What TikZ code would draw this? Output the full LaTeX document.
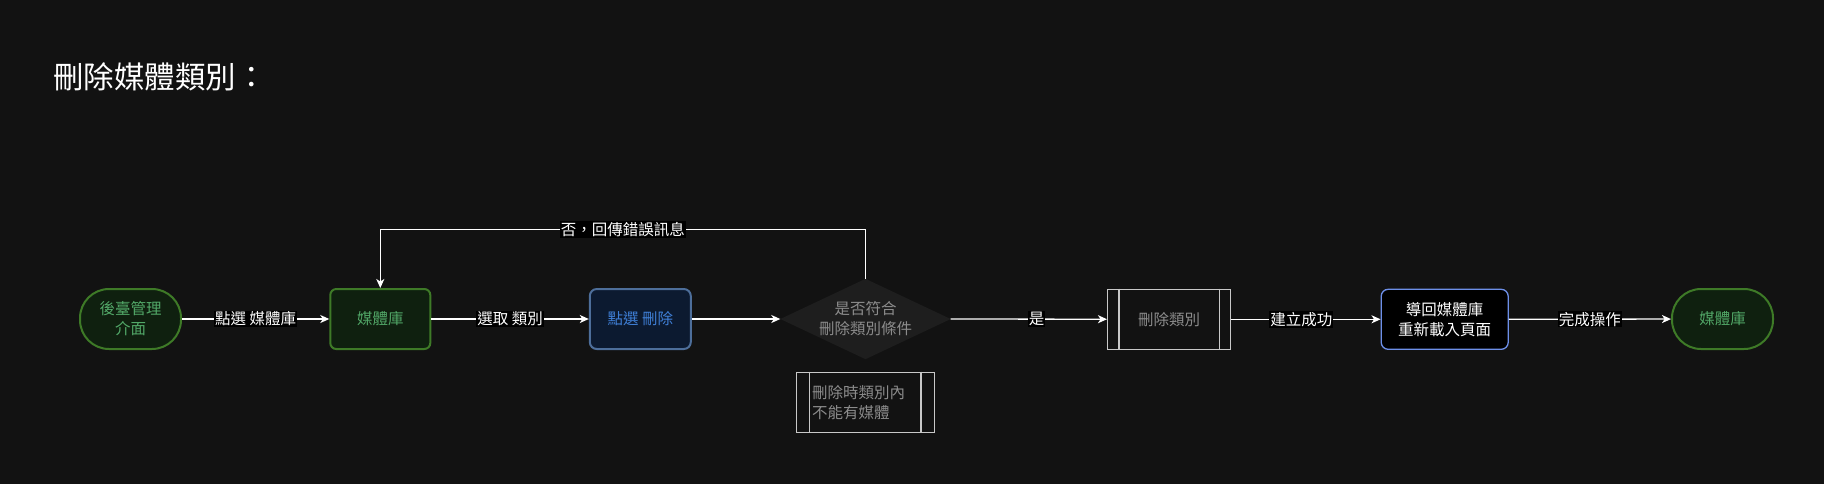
\documentclass[tikz,border=0pt]{standalone}
\usepackage{fontspec}
\setmainfont{Noto Sans CJK TC}
\usetikzlibrary{arrows.meta,calc}
\definecolor{bgc}{HTML}{121212}
\definecolor{grnfill}{HTML}{0F200F}
\definecolor{grnline}{HTML}{3E7A27}
\definecolor{grntext}{HTML}{52A868}
\definecolor{bluefill}{HTML}{0C1A30}
\definecolor{blueline}{HTML}{4D6E9A}
\definecolor{bluetext}{HTML}{3F7FD6}
\definecolor{blue2line}{HTML}{6D8FE8}
\definecolor{grayline}{HTML}{C8C8C8}
\definecolor{graytext}{HTML}{8C8C8C}
\definecolor{decfill}{HTML}{1E1E1E}
\tikzset{
  base/.style={font=\fontsize{15.5}{20}\selectfont, align=center, inner sep=0pt, minimum height=60pt},
  term/.style={base, draw=grnline, fill=grnfill, text=grntext, line width=2pt, rounded corners=29pt, minimum width=101pt},
  greenbox/.style={base, draw=grnline, fill=grnfill, text=grntext, line width=2pt, rounded corners=6pt, minimum width=100pt},
  bluebox/.style={base, draw=blueline, fill=bluefill, text=bluetext, line width=2pt, rounded corners=7pt, minimum width=101pt},
  navbox/.style={base, draw=blue2line, fill=black, text=white, line width=1.3pt, rounded corners=7pt, minimum width=127pt},
  procbox/.style={base, draw=grayline, text=graytext, line width=1.2pt, minimum width=123pt},
  lbl/.style={fill=black, text=white, font=\fontsize{15.5}{20}\selectfont, inner sep=1pt},
  arr/.style={draw=white, line width=1.3pt, -{Stealth[length=9pt,width=8pt,inset=2.5pt]}},
}
\begin{document}
\begin{tikzpicture}[x=1pt,y=-1pt]
\useasboundingbox (0,0) rectangle (1824,483);
\fill[bgc] (-3,-3) rectangle (1827,486);

\node[anchor=west, text=white, font=\fontsize{30.5}{36}\selectfont, inner sep=0pt] (title) at (53,77) {刪除媒體類別：};

\node[term] (start) at (130.5,319) {後臺管理\\介面};
\node[greenbox] (lib) at (380.3,319) {媒體庫};
\node[bluebox] (click) at (640.3,319) {點選 刪除};
\node[minimum width=170pt, minimum height=80pt, inner sep=0pt] (dec) at (865.5,319) {};
\fill[decfill] (dec.west) -- (dec.north) -- (dec.east) -- (dec.south) -- cycle;
\node[text=graytext, font=\fontsize{15.5}{20}\selectfont, align=center] (dectext) at (dec.center) {是否符合\\刪除類別條件};
\node[procbox] (del) at (1169.1,319.3) {刪除類別};
\draw[grayline, line width=1.2pt] ([xshift=12pt]del.north west) -- ([xshift=12pt]del.south west);
\draw[grayline, line width=1.2pt] ([xshift=-12pt]del.north east) -- ([xshift=-12pt]del.south east);
\node[navbox] (nav) at (1444.7,319.3) {導回媒體庫\\重新載入頁面};
\node[term] (endn) at (1722.5,319) {媒體庫};

\node[draw=grayline, line width=1.2pt, minimum width=138pt, minimum height=60pt, inner sep=0pt] (cond) at (865.4,402.3) {};
\draw[grayline, line width=1.2pt] ([xshift=14pt]cond.north west) -- ([xshift=14pt]cond.south west);
\draw[grayline, line width=1.2pt] ([xshift=-14pt]cond.north east) -- ([xshift=-14pt]cond.south east);
\node[anchor=west, text=graytext, font=\fontsize{15.5}{20}\selectfont, align=left, inner sep=0pt] (condtext) at ([xshift=16pt]cond.west) {刪除時類別內\\不能有媒體};

\coordinate (fbk) at (865.5,229.3);

\draw[arr] (start) -- node[lbl]{點選 媒體庫} (lib);
\draw[arr] (lib) -- node[lbl]{選取 類別} (click);
\draw[arr] (click) -- (dec.west);
\draw[arr] (dec.east) -- node[lbl, pos=0.55]{是} (del);
\draw[arr] (del) -- node[lbl, pos=0.47]{建立成功} (nav);
\draw[arr] (nav) -- node[lbl]{完成操作} (endn);
\draw[arr] (dec.north) |- node[lbl, pos=0.75]{否，回傳錯誤訊息} (lib.north |- fbk) -- (lib.north);
\end{tikzpicture}
\end{document}
